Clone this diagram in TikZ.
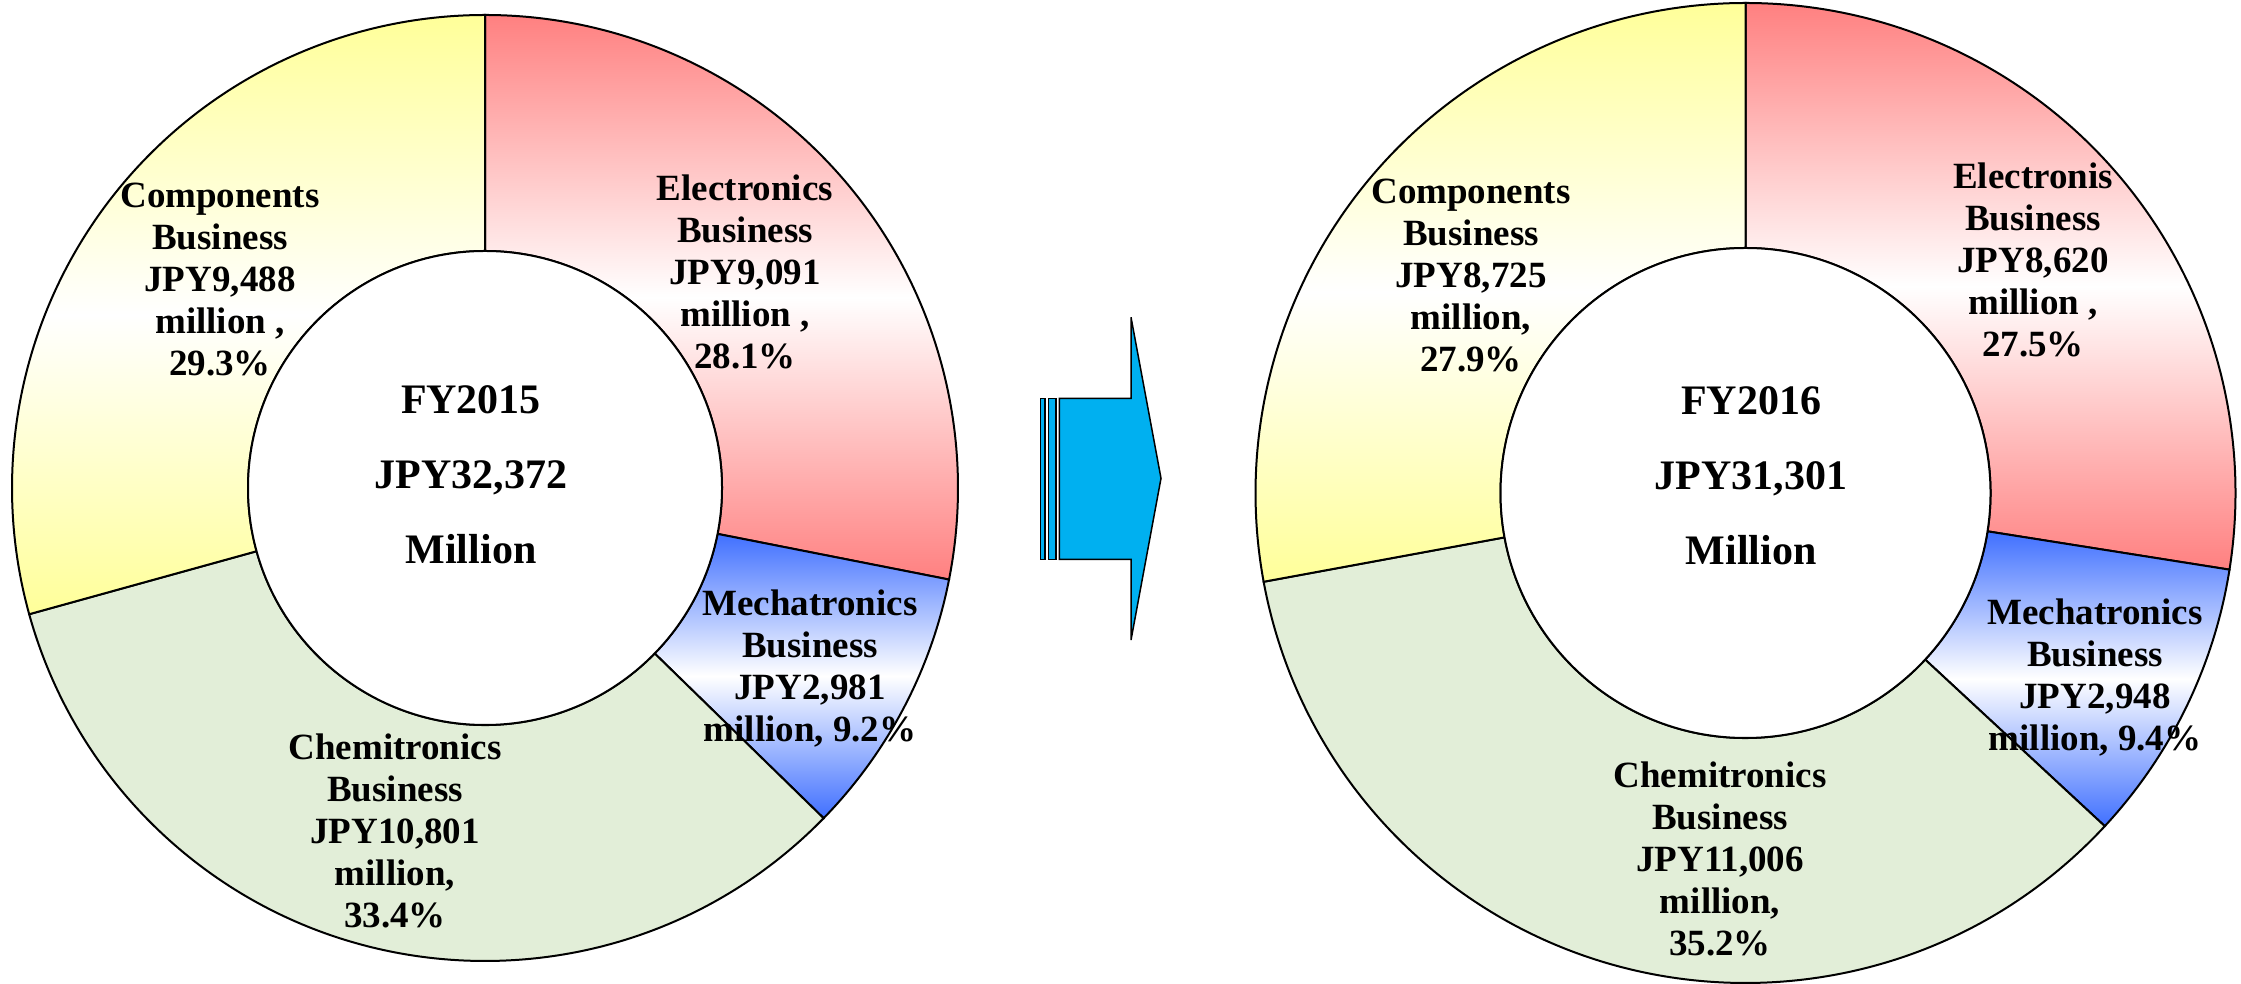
\documentclass[tikz,border=0pt]{standalone}
\usepackage{fontspec}
\setmainfont{Liberation Serif}
\usetikzlibrary{calc}
\definecolor{elecred}{RGB}{255,128,128}
\definecolor{mechblue}{RGB}{64,112,255}
\definecolor{compyellow}{RGB}{255,255,153}
\definecolor{chemgreen}{RGB}{226,238,216}
\definecolor{arrowcyan}{RGB}{0,176,240}
\newcommand\donutseg[6]{%
  \path[#6] ([shift={(#4:#2)}]#1) arc[start angle=#4, end angle=#5, radius=#2]
    -- ([shift={(#5:#3)}]#1) arc[start angle=#5, end angle=#4, radius=#3] -- cycle;}
\tikzset{
  segline/.style={draw=black, line width=1pt},
  elecseg/.style={segline, top color=elecred, bottom color=elecred, middle color=white},
  mechseg/.style={segline, top color=mechblue, bottom color=mechblue, middle color=white},
  compseg/.style={segline, top color=compyellow, bottom color=compyellow, middle color=white},
  chemseg/.style={segline, fill=chemgreen},
  hole/.style={circle, draw=black, line width=1pt, fill=white, inner sep=0pt, outer sep=0pt},
  seglabel/.style={align=center, inner sep=0pt, font=\fontsize{18.5}{21}\selectfont\bfseries},
  centerlabel/.style={align=center, inner sep=0pt, font=\fontsize{21}{37.5}\selectfont\bfseries},
  arrowpart/.style={draw=black, line width=0.75pt, fill=arrowcyan},
}
\begin{document}
\begin{tikzpicture}[x=0.5pt, y=0.5pt]
\useasboundingbox (0,0) rectangle (2241,984);
% ---------- FY2015 ----------
\coordinate (c1) at (485,496);
\donutseg{c1}{473}{237}{90}{-11.16}{elecseg}
\donutseg{c1}{473}{237}{-11.16}{-44.28}{mechseg}
\donutseg{c1}{473}{237}{-44.28}{-164.52}{chemseg}
\donutseg{c1}{473}{237}{-164.52}{-270}{compseg}
\node[hole, minimum size=237pt] (hole1) at (c1) {};
\node[seglabel] (comp1) at (220,704.5) {Components\\Business\\JPY9,488\\million ,\\29.3\%};
\node[seglabel] (elec1) at (745,712) {Electronics\\Business\\JPY9,091\\million ,\\28.1\%};
\node[seglabel] (mech1) at (810,315) {Mechatronics\\Business\\JPY2,981\\million, 9.2\%};
\node[seglabel] (chem1) at (395,153) {Chemitronics\\Business\\JPY10,801\\million,\\33.4\%};
\node[centerlabel] (tot1) at (471,509) {FY2015\\JPY32,372\\Million};
% ---------- Arrow ----------
\path[arrowpart] (1040.3,424.7) rectangle (1045,585.7);
\path[arrowpart] (1048.3,424.7) rectangle (1056,585.7);
\path[arrowpart] (1059.3,585.7) -- (1131,585.7) -- (1131,666.7) -- (1161,505.7)
  -- (1131,344) -- (1131,424.7) -- (1059.3,424.7) -- cycle;
% ---------- FY2016 ----------
\coordinate (c2) at (1745.5,491);
\donutseg{c2}{490}{245}{90}{-9}{elecseg}
\donutseg{c2}{490}{245}{-9}{-42.84}{mechseg}
\donutseg{c2}{490}{245}{-42.84}{-169.56}{chemseg}
\donutseg{c2}{490}{245}{-169.56}{-270}{compseg}
\node[hole, minimum size=245pt] (hole2) at (c2) {};
\node[seglabel] (comp2) at (1471,708) {Components\\Business\\JPY8,725\\million,\\27.9\%};
\node[seglabel] (elec2) at (2033,724) {Electronis\\Business\\JPY8,620\\million ,\\27.5\%};
\node[seglabel] (mech2) at (2095,306.5) {Mechatronics\\Business\\JPY2,948\\million, 9.4\%};
\node[seglabel] (chem2) at (1720,125) {Chemitronics\\Business\\JPY11,006\\million,\\35.2\%};
\node[centerlabel] (tot2) at (1751,508.5) {FY2016\\JPY31,301\\Million};
\end{tikzpicture}
\end{document}
